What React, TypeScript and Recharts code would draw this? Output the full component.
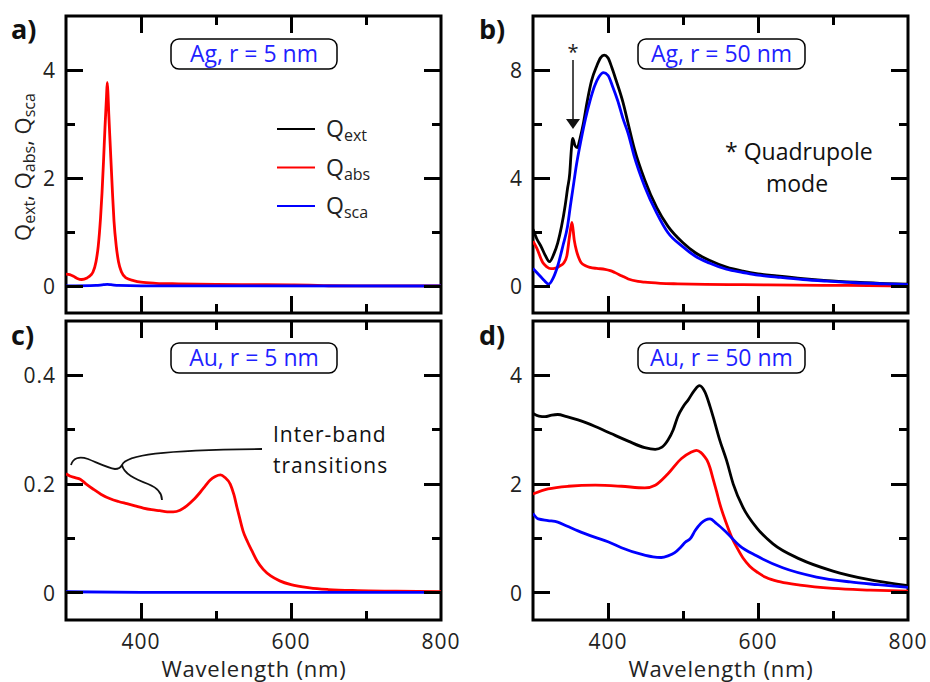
import React from "react";
import { LineChart, Line, XAxis, YAxis, ReferenceArea } from "recharts";

// a) Ag, r = 5 nm
const agSmallAbsWl = [300, 305, 310, 315, 321, 328, 333, 336, 340, 343, 346, 348, 350, 352, 354, 355, 356, 357, 359, 362, 364, 367, 370, 374, 380, 390, 400, 420, 450, 500, 550, 600, 625, 650, 700, 800];
const agSmallAbs = [0.22, 0.21, 0.18, 0.14, 0.12, 0.15, 0.2, 0.26, 0.45, 0.74, 1.25, 1.72, 2.3, 2.94, 3.5, 3.77, 3.55, 3.2, 2.6, 1.72, 1.2, 0.74, 0.45, 0.26, 0.15, 0.1, 0.07, 0.05, 0.04, 0.03, 0.025, 0.02, 0.015, 0.005, 0.003, 0.001];
const agSmallScaWl = [300, 340, 350, 355, 360, 370, 400, 800];
const agSmallSca = [0.0, 0.01, 0.025, 0.03, 0.025, 0.01, 0.003, 0.0];

// b) Ag, r = 50 nm
const agLargeExtWl = [300, 305, 311, 316, 322, 328, 333, 338, 343, 346, 349, 351, 353, 356, 359, 363, 367, 372, 378, 385, 390, 395, 400, 405, 411, 420, 427, 435, 449, 465, 480, 500, 516, 535, 558, 580, 600, 625, 660, 692, 730, 770, 800];
const agLargeExt = [2.1, 1.75, 1.45, 1.15, 0.9, 1.2, 1.6, 2.2, 3.0, 3.6, 4.17, 5.0, 5.47, 5.2, 5.13, 5.5, 6.0, 6.8, 7.6, 8.15, 8.45, 8.55, 8.45, 8.1, 7.6, 6.8, 6.0, 5.1, 3.93, 2.9, 2.21, 1.6, 1.24, 0.95, 0.7, 0.55, 0.45, 0.37, 0.27, 0.2, 0.14, 0.09, 0.07];
const agLargeAbsWl = [300, 305, 313, 318, 324, 330, 336, 341, 345, 349, 352, 355, 358, 361, 364, 370, 376, 385, 396, 403, 409, 418, 427, 440, 449, 470, 493, 530, 580, 650, 720, 800];
const agLargeAbs = [1.66, 1.4, 0.87, 0.72, 0.64, 0.66, 0.75, 0.85, 1.1, 1.9, 2.36, 1.7, 1.3, 1.05, 0.87, 0.75, 0.69, 0.65, 0.62, 0.57, 0.5, 0.38, 0.26, 0.17, 0.14, 0.1, 0.08, 0.06, 0.05, 0.03, 0.02, 0.0];
const agLargeScaWl = [300, 305, 310, 315, 321, 327, 333, 340, 346, 350, 353, 358, 364, 370, 376, 382, 388, 394, 400, 406, 413, 420, 427, 435, 449, 465, 480, 500, 516, 535, 558, 580, 600, 625, 660, 692, 730, 770, 800];
const agLargeSca = [0.65, 0.5, 0.35, 0.2, 0.07, 0.3, 0.75, 1.5, 2.2, 3.0, 3.56, 4.5, 5.4, 6.2, 6.86, 7.4, 7.75, 7.9, 7.8, 7.4, 6.86, 6.2, 5.64, 4.8, 3.68, 2.7, 1.97, 1.45, 1.11, 0.85, 0.62, 0.5, 0.4, 0.33, 0.24, 0.18, 0.12, 0.08, 0.05];

// c) Au, r = 5 nm
const auSmallAbsWl = [300, 305, 312, 319, 327, 336, 347, 359, 370, 381, 392, 403, 414, 425, 435, 443, 452, 461, 470, 479, 486, 492, 499, 506, 512, 519, 524, 528, 532, 536, 542, 548, 555, 563, 573, 585, 600, 625, 650, 689, 740, 800];
const auSmallAbs = [0.219, 0.215, 0.212, 0.209, 0.2, 0.191, 0.181, 0.173, 0.168, 0.164, 0.16, 0.156, 0.153, 0.151, 0.149, 0.149, 0.152, 0.16, 0.171, 0.185, 0.197, 0.207, 0.214, 0.217, 0.212, 0.2, 0.18, 0.157, 0.135, 0.114, 0.094, 0.077, 0.058, 0.043, 0.031, 0.022, 0.015, 0.009, 0.006, 0.004, 0.003, 0.002];
const auSmallScaWl = [300, 400, 800];
const auSmallSca = [0.002, 0.001, 0.001];

// d) Au, r = 50 nm
const auLargeExtWl = [300, 308, 316, 325, 333, 345, 360, 383, 404, 427, 449, 463, 472, 480, 487, 493, 500, 507, 515, 522, 529, 536, 542, 549, 558, 567, 580, 598, 620, 656, 700, 745, 800];
const auLargeExt = [3.3, 3.25, 3.24, 3.27, 3.28, 3.24, 3.18, 3.06, 2.93, 2.79, 2.67, 2.64, 2.68, 2.81, 3.0, 3.24, 3.42, 3.55, 3.72, 3.81, 3.7, 3.43, 3.15, 2.81, 2.44, 2.0, 1.57, 1.2, 0.9, 0.62, 0.4, 0.25, 0.13];
const auLargeAbsWl = [300, 320, 347, 383, 418, 449, 463, 480, 498, 510, 518, 524, 529, 532, 536, 540, 545, 549, 558, 565, 572, 580, 589, 600, 611, 630, 656, 700, 750, 800];
const auLargeAbs = [1.82, 1.91, 1.96, 1.98, 1.96, 1.93, 1.98, 2.19, 2.47, 2.58, 2.62, 2.58, 2.5, 2.44, 2.3, 2.1, 1.85, 1.64, 1.27, 1.02, 0.83, 0.64, 0.49, 0.37, 0.28, 0.2, 0.14, 0.08, 0.05, 0.03];
const auLargeScaWl = [300, 307, 320, 333, 345, 360, 383, 400, 418, 444, 460, 471, 480, 489, 497, 503, 510, 516, 524, 530, 536, 545, 558, 576, 598, 633, 678, 723, 760, 800];
const auLargeSca = [1.46, 1.36, 1.33, 1.3, 1.23, 1.14, 1.02, 0.94, 0.83, 0.71, 0.66, 0.65, 0.68, 0.74, 0.84, 0.93, 1.0, 1.14, 1.28, 1.34, 1.36, 1.27, 1.11, 0.86, 0.68, 0.46, 0.29, 0.2, 0.15, 0.1];

const xTicks = [400, 500, 600, 700];
const xMajors = [400, 600];
const xLabels = [400, 600, 800];
const X_MIN = 300;
const X_MAX = 800;

const FONT = "'Open Sans', sans-serif";
const RED = "#ff0000";
const BLUE = "#0000ff";
const BOX_TEXT = "#1f1fff";

const zip = (wl: number[], q: number[]) => wl.map((w, i) => ({ wl: w, q: q[i] }));

function leftLabel(props: any) {
  const { x, y, payload } = props;
  return (
    <text x={x - 10} y={y} textAnchor="end" dominantBaseline="central" fontSize={21} letterSpacing={1} fontFamily={FONT} fill="#222">
      {String(payload.value)}
    </text>
  );
}

function bottomLabel(props: any) {
  const { x, y, payload } = props;
  return (
    <text x={x} y={y + 21} textAnchor="middle" dominantBaseline="central" fontSize={21} letterSpacing={1} fontFamily={FONT} fill="#222">
      {String(payload.value)}
    </text>
  );
}

interface Series {
  data: { wl: number; q: number }[];
  color: string;
}

interface PanelDef {
  left: number;
  top: number;
  height: number;
  yWidth: number;
  mTop: number;
  mRight: number;
  mBottom: number;
  yDomain: [number, number];
  yTicks: number[];
  yMajors: number[];
  showX: boolean;
}

const WIDTH = 465;

const panelA: PanelDef = { left: 0, top: 0, height: 318, yWidth: 66, mTop: 16, mRight: 24, mBottom: 5, yDomain: [-0.5, 5], yTicks: [0, 1, 2, 3, 4], yMajors: [0, 2, 4], showX: false };
const panelB: PanelDef = { left: 465, top: 0, height: 318, yWidth: 68, mTop: 16, mRight: 22, mBottom: 5, yDomain: [-1, 10], yTicks: [0, 2, 4, 6, 8], yMajors: [0, 4, 8], showX: false };
const panelC: PanelDef = { left: 0, top: 318, height: 364, yWidth: 66, mTop: 3, mRight: 24, mBottom: 62, yDomain: [-0.05, 0.5], yTicks: [0, 0.1, 0.2, 0.3, 0.4], yMajors: [0, 0.2, 0.4], showX: true };
const panelD: PanelDef = { left: 465, top: 318, height: 364, yWidth: 68, mTop: 3, mRight: 22, mBottom: 62, yDomain: [-0.5, 5], yTicks: [0, 1, 2, 3, 4], yMajors: [0, 2, 4], showX: true };

interface TickMark { x: number; y: number; w: number; h: number }

// inward tick marks on the four sides of a panel box, laid out like the chart's own plot area
function tickMarks(p: PanelDef): TickMark[] {
  const [y0, y1] = p.yDomain;
  const L = p.left + p.yWidth;
  const R = p.left + WIDTH - p.mRight;
  const T = p.top + p.mTop;
  const B = p.top + p.height - p.mBottom;
  const sx = (v: number) => L + ((v - X_MIN) / (X_MAX - X_MIN)) * (R - L);
  const sy = (v: number) => B - ((v - y0) / (y1 - y0)) * (B - T);
  const out: TickMark[] = [];
  p.yTicks.forEach((v) => {
    const l = p.yMajors.includes(v) ? 17 : 9;
    const y = sy(v) - 1.5;
    out.push({ x: L, y, w: l, h: 3 });
    out.push({ x: R - l, y, w: l, h: 3 });
  });
  xTicks.forEach((v) => {
    const l = xMajors.includes(v) ? 17 : 9;
    const x = sx(v) - 1.5;
    out.push({ x, y: B - l, w: 3, h: l });
    out.push({ x, y: T, w: 3, h: l });
  });
  return out;
}

const allTicks = [panelA, panelB, panelC, panelD].flatMap(tickMarks);

function Panel({ p, series }: { p: PanelDef; series: Series[] }) {
  const [y0, y1] = p.yDomain;
  return (
    <div style={{ position: "absolute", left: p.left, top: p.top }}>
      <LineChart width={WIDTH} height={p.height} margin={{ top: p.mTop, right: p.mRight, bottom: 0, left: 0 }}>
        <XAxis type="number" dataKey="wl" domain={[X_MIN, X_MAX]} ticks={xLabels} interval={0}
          height={p.mBottom} tickSize={0} tickMargin={0} tickLine={false} axisLine={false}
          tick={p.showX ? bottomLabel : false} allowDataOverflow />
        <YAxis type="number" domain={p.yDomain} ticks={p.yMajors} interval={0} width={p.yWidth}
          tickSize={0} tickMargin={0} tickLine={false} axisLine={false} tick={leftLabel} allowDataOverflow />
        {series.map((s, i) => (
          <Line key={i} data={s.data} dataKey="q" type="monotone" stroke={s.color}
            strokeWidth={2.8} dot={false} activeDot={false} isAnimationActive={false} />
        ))}
        <ReferenceArea x1={X_MIN} x2={X_MAX} y1={y0} y2={y1} fill="none" fillOpacity={0}
          stroke="#000" strokeWidth={3} ifOverflow="visible" />
      </LineChart>
    </div>
  );
}

function Box({ x, y, w, text }: { x: number; y: number; w: number; text: string }) {
  return (
    <g>
      <rect x={x} y={y} width={w} height={30} rx={8} fill="#fff" stroke="#000" strokeWidth={1.5} />
      <text x={x + w / 2} y={y + 23} textAnchor="middle" fontSize={23} fontFamily={FONT} fill={BOX_TEXT}>
        {text}
      </text>
    </g>
  );
}

function Q({ x, y, sub, size = 23, subSize = 16 }: { x: number; y: number; sub: string; size?: number; subSize?: number }) {
  return (
    <text x={x} y={y} fontSize={size} fontFamily={FONT} fill="#222">
      Q<tspan fontSize={subSize} dy={4}>{sub}</tspan>
    </text>
  );
}

const legendRows = [
  { sub: "ext", color: "#000" },
  { sub: "abs", color: RED },
  { sub: "sca", color: BLUE },
];

export default function App() {
  return (
    <div style={{ position: "absolute", left: 0, top: 0, width: 930, height: 682, background: "#fff", overflow: "hidden" }}>
      <Panel p={panelA} series={[
        { data: zip(agSmallAbsWl, agSmallAbs), color: RED },
        { data: zip(agSmallScaWl, agSmallSca), color: BLUE },
      ]} />
      <Panel p={panelB} series={[
        { data: zip(agLargeExtWl, agLargeExt), color: "#000" },
        { data: zip(agLargeAbsWl, agLargeAbs), color: RED },
        { data: zip(agLargeScaWl, agLargeSca), color: BLUE },
      ]} />
      <Panel p={panelC} series={[
        { data: zip(auSmallAbsWl, auSmallAbs), color: RED },
        { data: zip(auSmallScaWl, auSmallSca), color: BLUE },
      ]} />
      <Panel p={panelD} series={[
        { data: zip(auLargeExtWl, auLargeExt), color: "#000" },
        { data: zip(auLargeAbsWl, auLargeAbs), color: RED },
        { data: zip(auLargeScaWl, auLargeSca), color: BLUE },
      ]} />

      <svg width={930} height={682} style={{ position: "absolute", left: 0, top: 0, pointerEvents: "none" }}>
        {/* panel letters */}
        <g fontFamily={FONT} fontWeight="bold" fontSize={27} fill="#111">
          <text x={11} y={39}>a)</text>
          <text x={479} y={39}>b)</text>
          <text x={11} y={345}>c)</text>
          <text x={479} y={345}>d)</text>
        </g>

        {/* y axis title */}
        <text transform="translate(31,167) rotate(-90)" textAnchor="middle" fontSize={22} fontFamily={FONT} fill="#222">
          Q<tspan fontSize={16} dy={4}>ext</tspan><tspan dy={-4}>, Q</tspan><tspan fontSize={16} dy={4}>abs</tspan>
          <tspan dy={-4}>, Q</tspan><tspan fontSize={16} dy={4}>sca</tspan>
        </text>

        {/* legend */}
        {legendRows.map((r, i) => (
          <g key={r.sub}>
            <line x1={277} x2={315} y1={129 + i * 38.5} y2={129 + i * 38.5} stroke={r.color} strokeWidth={2} />
            <Q x={326} y={137 + i * 38.5} sub={r.sub} />
          </g>
        ))}

        <Box x={171} y={39} w={166} text="Ag, r = 5 nm" />
        <Box x={638} y={39} w={167} text="Ag, r = 50 nm" />
        <Box x={171} y={343} w={166} text="Au, r = 5 nm" />
        <Box x={638} y={343} w={167} text="Au, r = 50 nm" />

        {/* quadrupole annotation */}
        <text x={573} y={59} textAnchor="middle" fontSize={20} fontFamily={FONT} fill="#222">*</text>
        <line x1={573} y1={60} x2={573} y2={121} stroke="#111" strokeWidth={1.5} />
        <polygon points="566,119 580,119 573,129" fill="#111" />
        <text x={725} y={160} fontSize={23} fontFamily={FONT} fill="#111">* Quadrupole</text>
        <text x={797} y={192} textAnchor="middle" fontSize={23} fontFamily={FONT} fill="#111">mode</text>

        {/* inter-band brace */}
        <path d="M 71 465 C 73 458, 79 456, 88 459 C 98 463, 108 468, 115 469 Q 120 469, 122 465 C 126 455, 160 450, 262 449"
          fill="none" stroke="#111" strokeWidth={1.8} />
        <path d="M 122 465 C 124 474, 135 479, 148 484 C 158 488, 162 493, 162 500" fill="none" stroke="#111" strokeWidth={1.8} />
        <text x={273} y={442} fontSize={21} letterSpacing={1} fontFamily={FONT} fill="#111">Inter-band</text>
        <text x={273} y={473} fontSize={21} letterSpacing={1} fontFamily={FONT} fill="#111">transitions</text>

        {/* x axis titles */}
        <text x={254} y={677} textAnchor="middle" fontSize={22} letterSpacing={0.8} fontFamily={FONT} fill="#222">Wavelength (nm)</text>
        <text x={721} y={677} textAnchor="middle" fontSize={22} letterSpacing={0.8} fontFamily={FONT} fill="#222">Wavelength (nm)</text>
      </svg>

      {allTicks.map((t, i) => (
        <div key={i} style={{ position: "absolute", left: t.x, top: t.y, width: t.w, height: t.h, background: "#000" }} />
      ))}
    </div>
  );
}
